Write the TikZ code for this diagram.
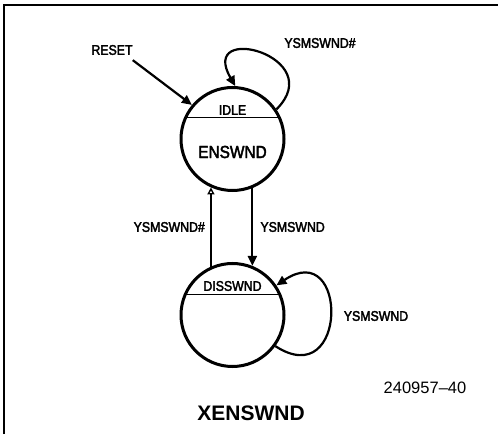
\documentclass[tikz,border=0pt]{standalone}
\usepackage{fontspec}
\setmainfont{Liberation Sans}
\newfontfamily\plotfont{Liberation Sans}[FakeStretch=0.88, FakeBold=2.5]
\usetikzlibrary{arrows.meta}

\tikzset{
  state/.style={draw, circle, line width=3pt, minimum size=103pt, inner sep=0pt},
  lbl/.style={font=\plotfont\fontsize{14}{14}\selectfont, inner sep=1pt},
  wire/.style={line width=2.2pt},
  head/.style={-{Triangle[length=10pt,width=9pt]}},
}

\begin{document}
\begin{tikzpicture}[x=1pt,y=1pt]
\useasboundingbox (0,0) rectangle (498,434);
% frame
\draw[line width=1.4pt] (4,0) -- (4,429) -- (498,429);

% states
\node[state] (idle) at (232.5,295) {};
\node[state] (dis) at (232.5,119) {};
\draw[line width=1.4pt] (idle.156) -- (idle.24);
\draw[line width=1.4pt] (dis.157) -- (dis.23);
\node[lbl] (idlename) at ([yshift=29pt]idle.center) {IDLE};
\node[lbl, font=\plotfont\fontsize{17.5}{17.5}\selectfont] (enswnd) at ([yshift=-13pt]idle.center) {ENSWND};
\node[lbl] (disname) at ([yshift=29pt]dis.center) {DISSWND};

% reset
\node[lbl] (reset) at (112,384) {RESET};
\draw[wire, head] ([xshift=-1pt,yshift=-4pt]reset.south east) -- (idle.140);

% transitions
\draw[wire, -{Triangle[open, length=7pt, width=7pt, line width=1.4pt]}] (dis.114) -- (idle.246)
  node[midway, left=4pt, lbl] {YSMSWND\#};
\draw[wire, head] (idle.292) -- (dis.68)
  node[midway, right=6pt, lbl] {YSMSWND};
\draw[wire, head] (idle.34) .. controls +(45:75pt) and +(120:75pt) .. (idle.87);
\node[lbl] (loopa) at (320,391) {YSMSWND\#};
\draw[wire, head] (dis.324) .. controls +(-33:87pt) and +(34:87pt) .. (dis.34);
\node[lbl] (loopb) at (376,118) {YSMSWND};

% captions
\node[font=\fontsize{16.5}{16.5}\selectfont] (fignum) at (425,46) {240957--40};
\node[font=\fontsize{21}{21}\selectfont\bfseries] (title) at (251,21) {XENSWND};
\end{tikzpicture}
\end{document}
